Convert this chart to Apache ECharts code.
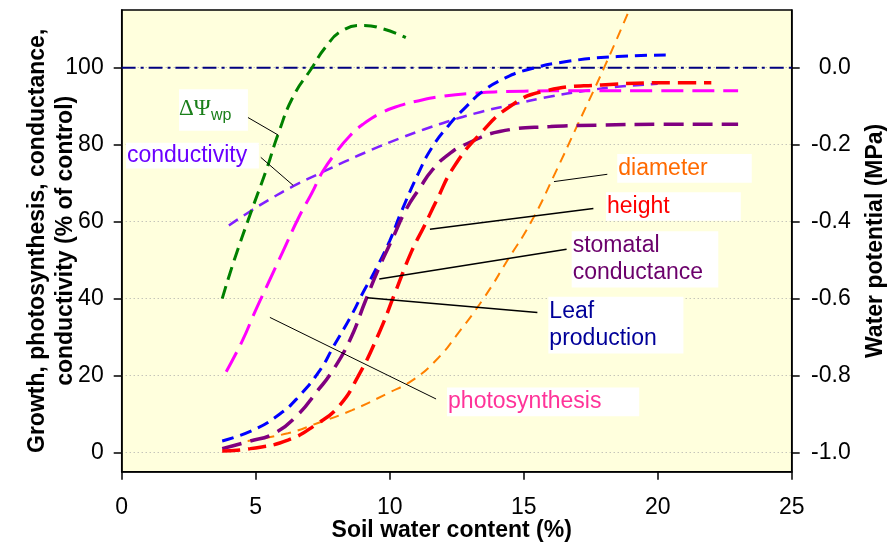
<!DOCTYPE html>
<html>
<head>
<meta charset="utf-8">
<script src="https://cdn.jsdelivr.net/npm/echarts@6/dist/echarts.min.js"></script>
<style>
html,body{margin:0;padding:0;background:#fff;}
#chart{width:889px;height:546px;}
</style>
</head>
<body>
<div id="chart"></div>
<script>
// ---------- data ----------
const xTicks = [0, 5, 10, 15, 20, 25];
const leftTicks = [0, 20, 40, 60, 80, 100];
const rightTicks = [-1.0, -0.8, -0.6, -0.4, -0.2, 0.0];

// water potential difference (MPa, right axis)
const psiX = [3.75, 4.2, 4.8, 5.4, 5.85, 6.4, 7.1, 7.6, 8.2, 9.0, 9.8, 10.6];
const psiY = [-0.60, -0.50, -0.38, -0.265, -0.17, -0.075, 0.0, 0.053, 0.095, 0.11, 0.10, 0.078];

// control reference (0.0 MPa)
const refX = [0, 25];
const refY = [0.0, 0.0];

const condX = [4.0, 4.8, 5.6, 6.4, 7.5, 8.3, 9.1, 10.4, 11.3, 12.3, 13.4, 14.5, 16.0, 17.5, 18.6, 20.0];
const condY = [59, 62.7, 66.1, 69.2, 72.9, 75.5, 78, 81.7, 84, 86.3, 88.5, 90.3, 92.5, 94.2, 95.1, 95.8];

const photoX = [3.9, 4.5, 5.0, 5.5, 6.0, 6.6, 7.1, 7.5, 8.0, 8.5, 9.0, 9.7, 10.4, 11.0, 12.0, 13.0, 15.0, 17.0, 20.0, 23.0];
const photoY = [21, 29, 37, 44.5, 52, 61, 67.5, 73, 78, 82.2, 85.3, 88.3, 90.2, 91.3, 92.6, 93.3, 93.9, 94, 94, 94];

const leafX = [3.75, 4.9, 5.9, 6.6, 7.4, 7.9, 8.6, 9.0, 9.4, 10.0, 10.4, 11.1, 11.6, 12.2, 12.8, 13.5, 14.3, 15.1, 16.6, 18.5, 20.3];
const leafY = [3, 5.8, 10, 14.5, 21.4, 27.5, 36, 41.5, 46.5, 55, 62, 73, 79.5, 85, 89.5, 94, 97.3, 99.4, 101.6, 102.9, 103.3];

const stomX = [3.75, 4.7, 5.7, 6.6, 7.3, 7.8, 8.5, 9.1, 9.6, 10.1, 10.6, 11.1, 11.6, 12.2, 12.9, 14.1, 16.0, 18.0, 20.0, 23.0];
const stomY = [1, 2.8, 5, 10, 16, 20.5, 29, 39.5, 48, 55.5, 63, 68.5, 73.5, 77.5, 80.3, 83.4, 84.7, 85.1, 85.3, 85.3];

const heightX = [3.75, 4.8, 6.2, 7.3, 8.1, 8.8, 9.6, 10.2, 10.8, 11.3, 11.75, 12.4, 13.4, 14.5, 15.7, 17.9, 20.8, 22.0];
const heightY = [0.4, 1, 3.2, 7.5, 12, 19.5, 31, 41.5, 52, 59, 65.5, 74.3, 83, 90, 93.8, 95.5, 96.1, 96.1];

const diamX = [4.7, 6.2, 7.3, 8.6, 9.9, 10.9, 11.8, 12.5, 13.5, 14.4, 15.3, 16.2, 17.0, 18.0, 19.0];
const diamY = [3, 5, 7.6, 11, 15.3, 19, 24.5, 30.5, 40, 50, 60.2, 73, 85, 100, 116];

// annotation labels
const labelTexts = {
  psi: ['ΔΨ', 'wp'],
  cond: 'conductivity',
  diam: 'diameter',
  height: 'height',
  stom: 'stomatal\nconductance',
  leaf: 'Leaf\nproduction',
  photo: 'photosynthesis'
};

// ---------- chart ----------
const FONT = '"Liberation Sans", Arial, sans-serif';
const zip = (xs, ys) => xs.map((x, i) => [x, ys[i]]);

function curve(name, xs, ys, color, width, dash, yAxisIndex) {
  return {
    name: name, type: 'line', yAxisIndex: yAxisIndex || 0,
    data: zip(xs, ys), symbol: 'none', smooth: 0.5,
    clip: true, silent: true,
    lineStyle: { color: color, width: width, type: dash, cap: 'butt' }
  };
}

const chart = echarts.init(document.getElementById('chart'), null, { renderer: 'canvas' });

chart.setOption({
  animation: false,
  backgroundColor: '#ffffff',
  grid: {
    left: 121.7, right: 97.3, top: 10, bottom: 74.3,
    outerBoundsMode: 'none', containLabel: false,
    show: true, backgroundColor: '#FFFFDD', borderColor: '#000', borderWidth: 1.5
  },
  xAxis: {
    type: 'value', min: xTicks[0], max: xTicks[xTicks.length - 1], interval: 5,
    axisLine: { show: true, onZero: false, lineStyle: { color: '#000', width: 1.5 } },
    axisTick: { show: true, inside: false, length: 8, lineStyle: { color: '#000', width: 1.5 } },
    axisLabel: { fontSize: 23, color: '#000', fontFamily: FONT, margin: 24 },
    splitLine: { show: false },
    name: 'Soil water content (%)', nameLocation: 'middle', nameGap: 47, nameMoveOverlap: false,
    nameTextStyle: { fontSize: 23, fontWeight: 'bold', color: '#000', fontFamily: FONT, padding: [0, 10, 0, 0] }
  },
  yAxis: [
    {
      type: 'value', position: 'left', min: -5, max: 115,
      axisLine: { show: true, onZero: false, lineStyle: { color: '#000', width: 1.5 } },
      axisTick: { show: true, inside: false, length: 8, customValues: leftTicks, lineStyle: { color: '#000', width: 1.5 } },
      axisLabel: { customValues: leftTicks, fontSize: 23, color: '#000', fontFamily: FONT, margin: 18 },
      splitLine: { show: true, lineStyle: { color: '#ABABAB', width: 1, type: [1, 3] } },
      name: 'Growth, photosynthesis, conductance,\nconductivity (% of control)',
      nameLocation: 'middle', nameRotate: 90, nameGap: 42, nameMoveOverlap: false,
      nameTextStyle: { fontSize: 23, fontWeight: 'bold', color: '#000', fontFamily: FONT, lineHeight: 28 }
    },
    {
      type: 'value', position: 'right', min: -1.05, max: 0.15,
      axisLine: { show: true, onZero: false, lineStyle: { color: '#000', width: 1.5 } },
      axisTick: { show: true, inside: false, length: 8, customValues: rightTicks, lineStyle: { color: '#000', width: 1.5 } },
      axisLabel: {
        customValues: rightTicks, fontSize: 23, color: '#000', fontFamily: FONT,
        align: 'right', margin: 59,
        formatter: v => (Math.abs(v) < 1e-9 ? 0 : v).toFixed(1)
      },
      splitLine: { show: false },
      name: 'Water potential (MPa)', nameLocation: 'middle', nameRotate: 90, nameGap: 72, nameMoveOverlap: false,
      nameTextStyle: { fontSize: 23, fontWeight: 'bold', color: '#000', fontFamily: FONT }
    }
  ],
  series: [
    curve('control', refX, refY, '#000080', 2, [14, 5, 3, 5], 1),
    curve('diameter', diamX, diamY, '#FF8000', 2, [10, 7]),
    curve('conductivity', condX, condY, '#8020FF', 2.5, [11, 7]),
    curve('photosynthesis', photoX, photoY, '#FF00FF', 3, [22, 9]),
    curve('Leaf production', leafX, leafY, '#0000FF', 3, [12, 7]),
    curve('stomatal conductance', stomX, stomY, '#800080', 3.5, [20, 9]),
    curve('height', heightX, heightY, '#FF0000', 3.5, [18, 8]),
    curve('ΔΨwp', psiX, psiY, '#008000', 3, [13, 7], 1)
  ]
});

// ---------- annotations (positions in data units of the left axis) ----------
const annotations = [
  { key: 'cond',   color: '#6A00FF', box: [0.16, 80.5, 5.12, 73.8],  line: [[5.19, 76.7], [6.40, 69.4]], lw: 1 },
  { key: 'diam',   color: '#FF6A00', box: [18.49, 77.6, 23.51, 70.1], line: [[16.13, 70.4], [18.12, 72.3]], lw: 1 },
  { key: 'height', color: '#FF0000', box: [18.07, 67.6, 23.1, 60.2],  line: [[11.5, 58.0], [17.6, 63.4]], lw: 1.5 },
  { key: 'stom',   color: '#6B006B', box: [16.79, 57.5, 22.26, 42.9], line: [[9.61, 45.1], [16.6, 52.8]], lw: 1.5 },
  { key: 'leaf',   color: '#000099', box: [15.92, 40.5, 20.96, 25.7], line: [[9.16, 40.2], [15.51, 36.4]], lw: 1.5 },
  { key: 'photo',  color: '#FF3399', box: [12.14, 16.9, 19.31, 9.4],  line: [[5.53, 35.1], [11.73, 13.9]], lw: 1 },
  { key: 'psi',    color: '#1A7F1A', box: [2.14, 94.4, 4.71, 83.6],   line: [[4.70, 87.1], [5.84, 82.5]], lw: 1 }
];

function px(p) { return chart.convertToPixel({ xAxisIndex: 0, yAxisIndex: 0 }, p); }

const elements = [];
annotations.forEach(a => {
  const p1 = px([a.box[0], a.box[1]]);
  const p2 = px([a.box[2], a.box[3]]);
  const l1 = px(a.line[0]);
  const l2 = px(a.line[1]);
  elements.push({
    type: 'line', z: 100, silent: true,
    shape: { x1: l1[0], y1: l1[1], x2: l2[0], y2: l2[1] },
    style: { stroke: '#000', lineWidth: a.lw }
  });
  elements.push({
    type: 'rect', z: 101, silent: true,
    shape: { x: p1[0], y: p1[1], width: p2[0] - p1[0], height: p2[1] - p1[1] },
    style: { fill: '#FFFFFF' }
  });
  const cy = (p1[1] + p2[1]) / 2;
  if (a.key === 'psi') {
    elements.push({
      type: 'text', z: 102, silent: true, x: p1[0] + 0, y: cy - 1,
      style: { text: labelTexts.psi[0], fill: a.color, font: '23px "Liberation Serif", "DejaVu Serif", serif', align: 'left', verticalAlign: 'middle' }
    });
    elements.push({
      type: 'text', z: 102, silent: true, x: p1[0] + 32, y: cy + 6,
      style: { text: labelTexts.psi[1], fill: a.color, font: '16px ' + FONT, align: 'left', verticalAlign: 'middle' }
    });
  } else {
    elements.push({
      type: 'text', z: 102, silent: true, x: p1[0] + 1, y: cy,
      style: { text: labelTexts[a.key], fill: a.color, font: '23px ' + FONT, align: 'left', verticalAlign: 'middle', lineHeight: 27 }
    });
  }
});

chart.setOption({ graphic: { elements: elements } });
</script>
</body>
</html>
